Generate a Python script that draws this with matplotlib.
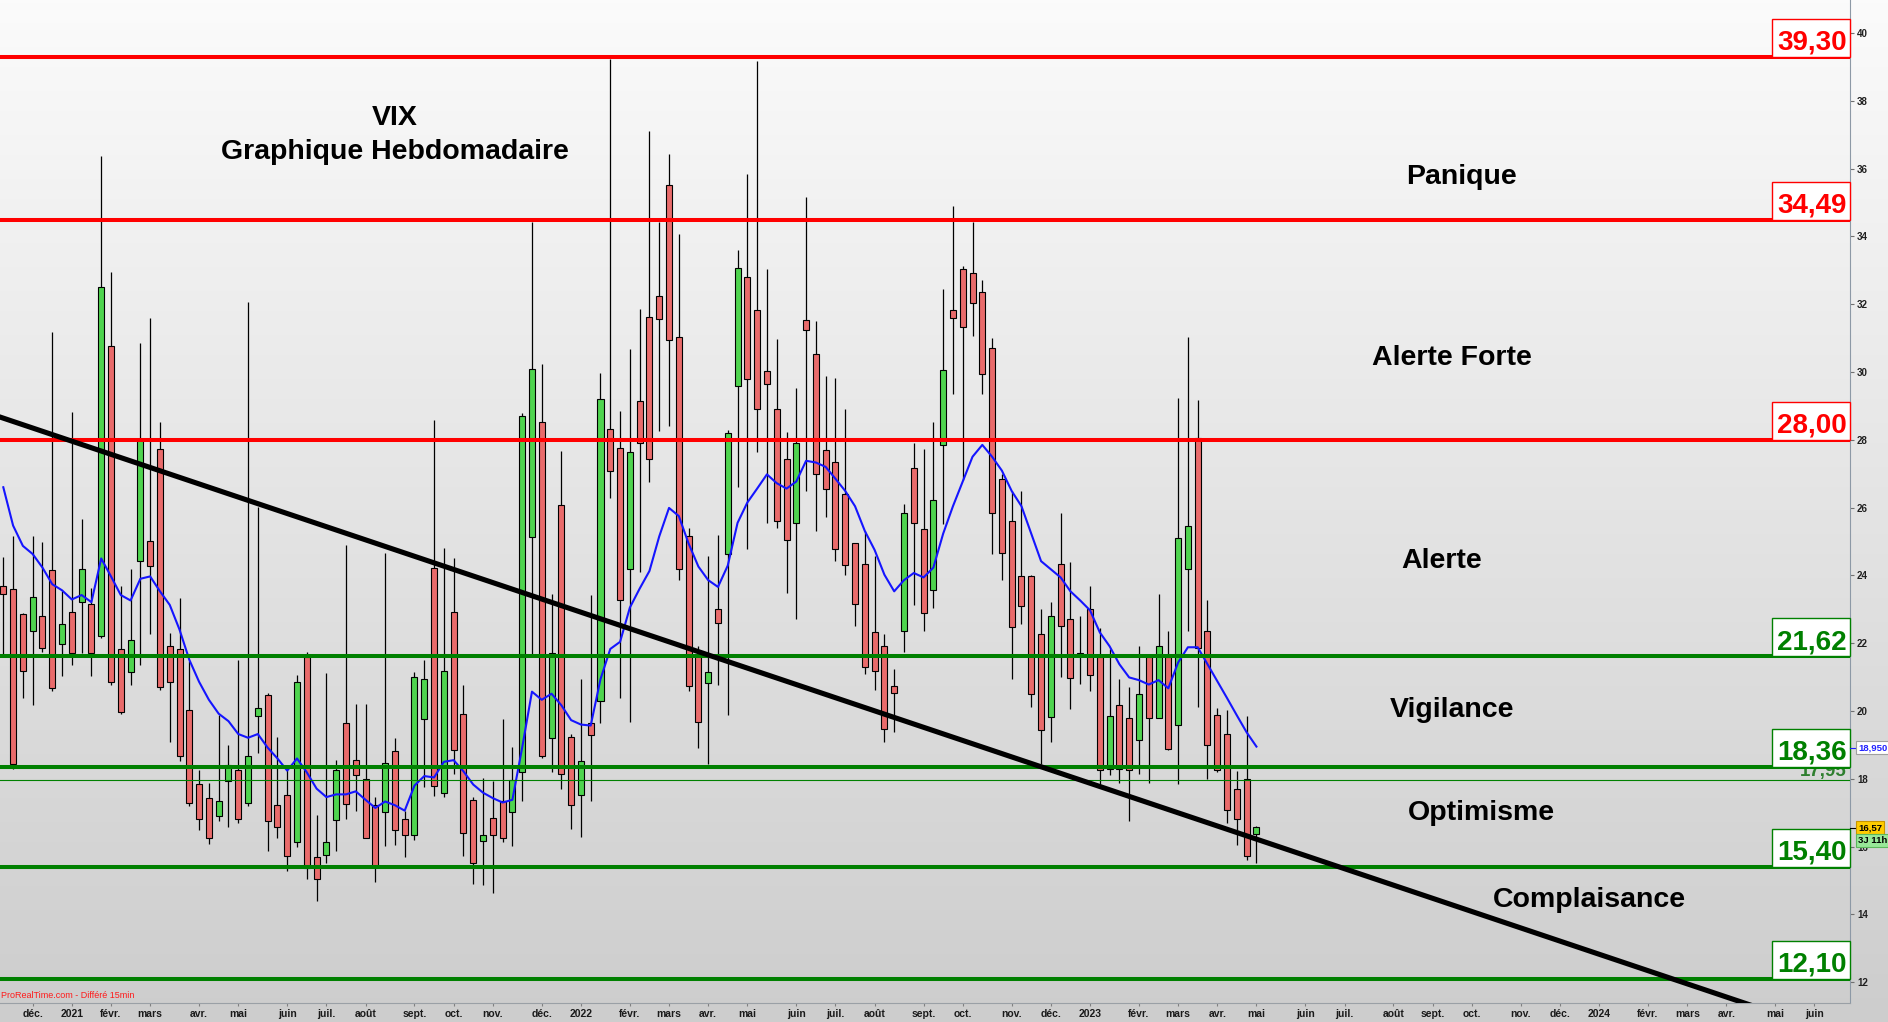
import datetime as dt

import numpy as np
import matplotlib
matplotlib.use("Agg")
from matplotlib import pyplot as plt
import matplotlib.dates as mdates
from matplotlib.lines import Line2D
from matplotlib.patches import Rectangle
from matplotlib.transforms import blended_transform_factory

plt.rcParams['font.family'] = ['Liberation Sans', 'DejaVu Sans']

# === 0. DATA (weekly VIX candles) ===

first_week = dt.date(2020, 11, 16)   # monday of the first candle

opens = [23.69, 23.61, 22.85, 22.37, 22.80, 24.15, 21.99, 22.93, 23.21, 23.16,
         22.20, 30.78, 21.83, 21.15, 24.42, 25.02, 27.74, 21.93, 21.83, 20.02,
         17.84, 17.42, 16.90, 17.92, 18.27, 17.30, 19.86, 20.46, 17.22, 17.51,
         16.14, 21.59, 15.68, 15.76, 16.79, 19.65, 18.56, 18.00, 17.22, 17.03,
         18.81, 16.82, 16.33, 19.76, 24.21, 17.58, 22.92, 19.92, 17.38, 16.17,
         16.85, 17.34, 17.01, 18.19, 25.12, 28.52, 19.19, 26.09, 19.24, 17.51,
         19.65, 20.30, 28.31, 27.77, 24.18, 29.15, 31.61, 32.25, 35.51, 31.04,
         25.15, 21.67, 20.83, 23.00, 24.63, 29.60, 32.79, 31.83, 30.04, 28.92,
         27.42, 25.54, 31.54, 30.54, 27.69, 27.34, 26.41, 24.96, 24.34, 22.32,
         21.93, 20.73, 22.37, 27.17, 25.36, 23.56, 27.85, 31.82, 33.05, 32.93,
         32.37, 30.70, 26.85, 25.59, 23.97, 23.97, 22.27, 19.81, 24.34, 22.72,
         21.72, 23.01, 21.59, 18.30, 20.18, 19.78, 19.13, 21.59, 19.78, 21.59,
         19.60, 24.18, 28.06, 22.37, 19.89, 19.32, 17.71, 18.00, 16.36]

highs = [24.53, 25.15, 22.90, 25.15, 24.99, 31.17, 23.53, 28.82, 25.67, 23.64,
         36.36, 32.95, 23.69, 24.18, 30.86, 31.59, 28.52, 22.30, 23.34, 21.48,
         18.27, 17.87, 19.89, 19.00, 21.51, 32.06, 26.01, 20.54, 19.24, 18.27,
         21.06, 21.75, 16.93, 21.11, 18.56, 24.91, 20.21, 20.21, 17.46, 24.66,
         19.20, 17.06, 21.15, 21.51, 28.58, 24.82, 24.50, 20.78, 17.46, 18.03,
         17.92, 19.76, 18.95, 28.80, 34.41, 30.25, 23.45, 27.66, 19.32, 20.94,
         23.42, 29.97, 39.23, 28.84, 30.68, 31.86, 37.12, 34.42, 36.44, 34.08,
         25.39, 21.91, 24.58, 25.18, 28.30, 33.60, 35.83, 39.18, 33.05, 30.98,
         28.22, 29.52, 35.15, 31.51, 29.87, 29.81, 28.92, 24.96, 25.31, 24.58,
         22.27, 21.24, 26.12, 27.90, 27.74, 28.52, 32.46, 34.89, 33.13, 34.41,
         32.72, 31.01, 27.00, 26.49, 26.48, 24.02, 23.01, 23.21, 25.83, 24.39,
         22.80, 23.69, 22.45, 21.83, 20.94, 20.70, 21.91, 21.60, 23.45, 22.37,
         29.23, 31.02, 29.16, 23.26, 20.10, 20.02, 18.22, 19.86, 16.62]

lows = [21.67, 18.30, 20.38, 20.17, 21.75, 20.60, 21.02, 21.35, 21.70, 21.02,
        22.15, 20.78, 19.92, 20.78, 21.35, 22.27, 20.62, 19.08, 18.52, 17.19,
        16.49, 16.09, 16.74, 16.57, 16.69, 17.19, 18.76, 15.88, 16.25, 15.28,
        15.98, 15.04, 14.40, 15.52, 15.88, 16.82, 17.06, 16.25, 14.96, 16.01,
        16.04, 15.68, 16.20, 17.76, 17.50, 17.45, 18.14, 15.72, 14.91, 14.87,
        14.63, 16.15, 16.01, 17.33, 21.67, 18.60, 18.19, 17.71, 16.52, 16.28,
        17.33, 19.65, 26.28, 20.38, 19.68, 24.10, 26.74, 28.27, 28.42, 23.86,
        20.59, 18.92, 18.43, 20.78, 19.89, 26.61, 24.79, 27.63, 25.55, 25.39,
        23.48, 22.72, 26.49, 25.31, 25.72, 24.42, 24.02, 22.51, 21.10, 20.62,
        19.08, 19.37, 21.75, 23.13, 22.37, 23.05, 25.52, 29.34, 26.82, 31.06,
        29.36, 24.63, 23.86, 20.94, 22.56, 20.13, 18.43, 19.08, 20.99, 20.05,
        20.81, 20.59, 17.79, 18.11, 17.87, 16.74, 18.14, 17.87, 19.78, 18.84,
        17.84, 22.37, 20.13, 17.98, 18.19, 16.69, 16.06, 15.60, 15.52]

closes = [23.45, 18.43, 21.19, 23.37, 21.87, 20.67, 22.58, 21.70, 24.18, 21.72,
          32.50, 20.86, 19.97, 22.08, 28.00, 24.29, 20.70, 20.86, 18.68, 17.30,
          16.82, 16.25, 17.33, 18.40, 16.82, 18.68, 20.10, 16.74, 16.57, 15.73,
          20.86, 15.36, 15.04, 16.14, 18.27, 17.27, 18.11, 16.25, 15.44, 18.48,
          16.49, 16.33, 20.99, 20.94, 17.79, 21.19, 18.84, 16.41, 15.52, 16.33,
          16.33, 16.25, 17.95, 28.71, 30.08, 18.68, 21.70, 18.14, 17.22, 18.52,
          19.29, 29.21, 27.09, 23.26, 27.63, 27.90, 27.42, 31.57, 30.93, 24.18,
          20.73, 19.68, 21.14, 22.61, 28.21, 33.08, 29.79, 28.90, 29.65, 25.60,
          25.04, 27.90, 31.25, 26.98, 26.56, 24.78, 24.31, 23.16, 21.30, 21.18,
          19.47, 20.54, 25.84, 25.54, 22.88, 26.23, 30.07, 31.59, 31.33, 32.03,
          29.94, 25.84, 24.66, 22.48, 23.09, 20.51, 19.44, 22.80, 22.51, 20.97,
          21.66, 21.07, 18.27, 19.84, 18.30, 18.27, 20.49, 19.78, 21.93, 18.89,
          25.10, 25.47, 21.87, 19.00, 18.27, 17.09, 16.82, 15.72, 16.57]

# blue average line, one value per candle
avg_line = [26.60, 25.47, 24.87, 24.63, 24.23, 23.74, 23.56, 23.29, 23.42, 23.21,
            24.50, 23.97, 23.42, 23.26, 23.90, 23.97, 23.53, 23.13, 22.40, 21.51,
            20.86, 20.33, 19.92, 19.70, 19.32, 19.21, 19.32, 18.92, 18.60, 18.24,
            18.60, 18.19, 17.71, 17.46, 17.54, 17.54, 17.63, 17.38, 17.14, 17.33,
            17.22, 17.06, 17.80, 18.08, 18.04, 18.50, 18.55, 18.22, 17.83, 17.59,
            17.43, 17.30, 17.38, 18.92, 20.57, 20.33, 20.51, 20.17, 19.73, 19.60,
            19.57, 20.94, 21.83, 22.04, 23.05, 23.61, 24.13, 25.15, 25.99, 25.75,
            24.94, 24.26, 23.86, 23.66, 24.29, 25.55, 26.15, 26.56, 26.98, 26.72,
            26.56, 26.77, 27.38, 27.33, 27.20, 26.85, 26.49, 26.04, 25.31, 24.75,
            24.02, 23.53, 23.86, 24.07, 23.94, 24.23, 25.23, 26.04, 26.77, 27.50,
            27.85, 27.50, 27.09, 26.49, 26.04, 25.23, 24.42, 24.18, 23.94, 23.53,
            23.26, 22.97, 22.32, 21.91, 21.38, 20.99, 20.91, 20.78, 20.91, 20.67,
            21.43, 21.88, 21.88, 21.38, 20.88, 20.38, 19.87, 19.37, 18.95]

red_levels = [39.30, 34.49, 28.00]
green_levels = [21.62, 18.36, 15.40, 12.10]
minor_level = 17.95

zone_names = ["Panique", "Alerte Forte", "Alerte", "Vigilance", "Optimisme", "Complaisance"]
zone_values = [35.75, 30.41, 24.42, 20.03, 16.99, 14.42]

# trend line end points (date, value)
trend_dates = [dt.date(2020, 11, 13), dt.date(2024, 4, 20)]
trend_values = [28.68, 11.30]

month_names = ['janv.', 'févr.', 'mars', 'avr.', 'mai', 'juin',
               'juil.', 'août', 'sept.', 'oct.', 'nov.', 'déc.']

last_price = "16,57"
avg_label = "18,950"
time_left = "3J 11h"

# === 1. FIGURE + BACKGROUND ===

W, H = 1888, 1022
fig = plt.figure(figsize=(W / 100, H / 100), dpi=100)

bg = fig.add_axes([0, 0, 1, 1])
grad = np.linspace(251, 205, 256) / 255
bg.imshow(np.stack([grad, grad, grad], axis=-1).reshape(256, 1, 3),
          aspect='auto', extent=[0, 1, 0, 1])
bg.set_axis_off()

ax = fig.add_axes([0, 19 / H, 1850 / W, 1003 / H])
ax.patch.set_visible(False)

base = mdates.date2num(first_week)
ax.set_xlim(base - 2.36, base + 1320.4)
ax.set_ylim(11.386, 40.973)

# === 2. CANDLES + AVERAGE ===

xs = [mdates.date2num(first_week + dt.timedelta(weeks=i)) for i in range(len(opens))]
o = np.array(opens)
c = np.array(closes)
body_colors = ['#4fd44f' if cc >= oo else '#e96b6b' for oo, cc in zip(o, c)]

ax.vlines(xs, lows, highs, color='black', lw=0.9, zorder=2)
ax.bar(xs, np.maximum(np.abs(c - o), 0.03), width=4.3, bottom=np.minimum(o, c),
       color=body_colors, edgecolor='black', linewidth=0.8, zorder=2.5)

ax.plot(xs, avg_line, color='#1515ff', lw=1.5, zorder=3)

# === 3. LEVELS + LABEL BOXES ===

tr = blended_transform_factory(ax.transAxes, ax.transData)
px_val = 1 / 33.9        # one pixel in price units
box_left = 1772 / 1850

for lev, col in [(v, '#ff0000') for v in red_levels] + [(v, '#008000') for v in green_levels]:
    ax.axhline(lev, color=col, lw=2.9, zorder=4)
    ax.add_patch(Rectangle((box_left, lev), 1 - box_left, 38 * px_val, transform=tr,
                           facecolor='white', edgecolor=col, lw=1.0, zorder=6, clip_on=False))
    ax.text(1847 / 1850, lev + 7 * px_val, f"{lev:.2f}".replace('.', ','), transform=tr,
            ha='right', va='baseline', fontsize=20, fontweight='bold', color=col, zorder=7)

ax.axhline(minor_level, color='#008000', lw=0.8, zorder=4)
ax.text(1847 / 1850, minor_level + 4 * px_val, f"{minor_level:.2f}".replace('.', ','),
        transform=tr, ha='right', va='baseline', fontsize=13.5, fontweight='bold',
        color='#2f7f2f', zorder=3.5)

# trend line
ax.plot([mdates.date2num(d) for d in trend_dates], trend_values,
        color='black', lw=3.7, solid_capstyle='butt', zorder=5)

# === 4. TEXTS ===

ax.text(395 / 1850, 37.50, "VIX", transform=tr, ha='center', va='center',
        fontsize=20.5, fontweight='bold', zorder=8)
ax.text(395 / 1850, 36.48, "Graphique Hebdomadaire", transform=tr, ha='center', va='center',
        fontsize=20.5, fontweight='bold', zorder=8)

zone_x = [1462, 1452, 1442, 1452, 1481, 1589]
for name, val, zx in zip(zone_names, zone_values, zone_x):
    ax.text(zx / 1850, val, name, transform=tr, ha='center', va='center',
            fontsize=20.5, fontweight='bold', color='black', zorder=8)

ax.text(0.0005, 0.003, "ProRealTime.com - Différé 15min", transform=ax.transAxes,
        ha='left', va='bottom', fontsize=6.5, color='#ff1a1a', zorder=8)

# === 5. AXES ===

ax.yaxis.tick_right()
ax.set_yticks(range(12, 41, 2))
ax.set_yticklabels([str(v) for v in range(12, 41, 2)], fontsize=7, fontweight='bold',
                   color='#202020')
ax.tick_params(axis='y', direction='out', length=3, width=0.8, color='#707070', pad=2)

tick_pos, tick_lab = [], []
for year in range(2020, 2025):
    for month in range(1, 13):
        if (year, month) < (2020, 12) or (year, month) > (2024, 6):
            continue
        d = dt.date(year, month, 1)
        while d.weekday() != 0:
            d += dt.timedelta(days=1)
        tick_pos.append(mdates.date2num(d))
        tick_lab.append(str(year) if month == 1 else month_names[month - 1])

ax.set_xticks(tick_pos)
ax.set_xticklabels(tick_lab, fontsize=7.5, fontweight='bold', color='#1a1a1a')
ax.tick_params(axis='x', direction='out', length=2.5, width=0.8, color='#808080', pad=2)

for side in ['top', 'left']:
    ax.spines[side].set_visible(False)
ax.spines['right'].set_color('#8d99a6')
ax.spines['bottom'].set_color('#9aa0a6')

# right axis badges
def badge(y_px, text, fc, ec, tc):
    fig.text(1858 / W, 1 - y_px / H, text, ha='left', va='center', fontsize=6.8,
             fontweight='bold', color=tc, zorder=10,
             bbox=dict(boxstyle='square,pad=0.2', facecolor=fc, edgecolor=ec, lw=0.8))

badge(747.5, avg_label, 'white', '#a0a0a0', '#2020ff')
badge(827.5, last_price, '#ffcc00', '#c89600', 'black')
badge(840.5, time_left, '#98e898', '#5cb85c', 'black')

fig.add_artist(Line2D([1850 / W, 1855 / W], [1 - 747.5 / H] * 2, color='#2020ff', lw=0.8))
fig.add_artist(Line2D([1850 / W, 1855 / W], [1 - 827.5 / H] * 2, color='black', lw=0.8))

fig.savefig("out.png", dpi=100)
